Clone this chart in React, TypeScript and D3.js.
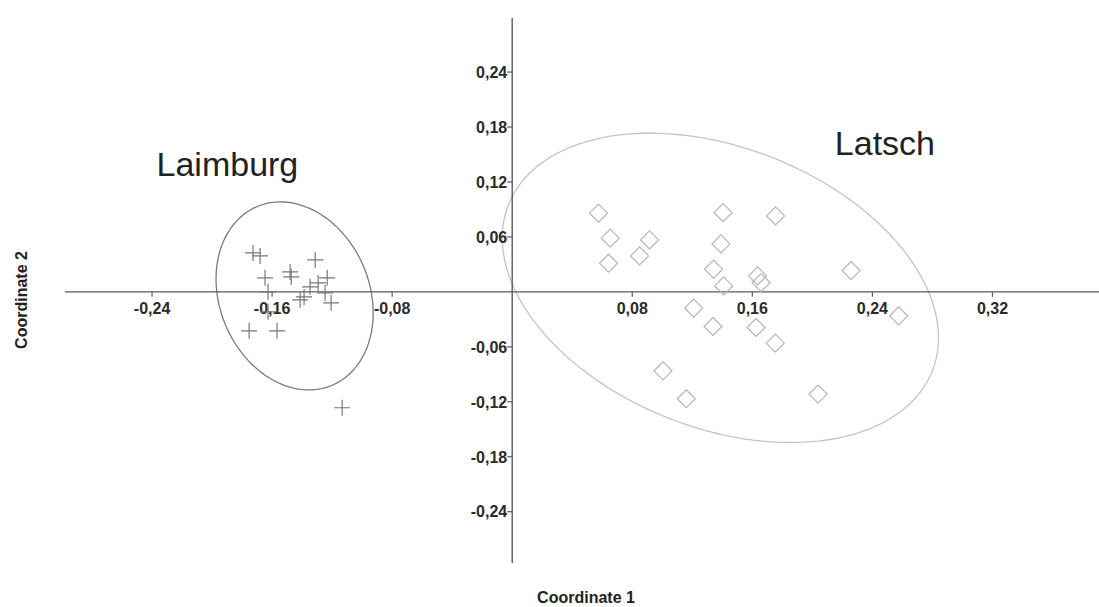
import * as React from 'react';
import * as d3 from 'd3';

// Laimburg (crosses)
const laimburgX = [-0.1727, -0.168, -0.1647, -0.1627, -0.1627, -0.148, -0.1473, -0.1313, -0.1233, -0.1293, -0.1347, -0.1387, -0.1413, -0.1247, -0.1207, -0.1753, -0.1567, -0.1133];
const laimburgY = [0.0425, 0.0393, 0.0153, 0.0, -0.0218, 0.0218, 0.0164, 0.0349, 0.0153, 0.0098, 0.0055, -0.0055, -0.0087, -0.0011, -0.012, -0.0425, -0.0425, -0.1265];

// Latsch (diamonds)
const latschX = [0.0575, 0.0653, 0.0642, 0.0915, 0.0849, 0.1405, 0.1755, 0.1391, 0.1342, 0.1409, 0.1635, 0.1658, 0.2258, 0.1209, 0.1338, 0.1625, 0.1753, 0.2575, 0.1005, 0.116, 0.2038];
const latschY = [0.0859, 0.0586, 0.0313, 0.0567, 0.0393, 0.0865, 0.0829, 0.0524, 0.0248, 0.0065, 0.0175, 0.0101, 0.0232, -0.0178, -0.0378, -0.0389, -0.056, -0.0262, -0.0862, -0.1167, -0.1116];

// 95% ellipses: centre x, centre y, semi-axis a, semi-axis b, angle (deg)
const laimburgEllipse = [-0.145, -0.0044, 0.1032, 0.0512, 97];
const latschEllipse = [0.1387, 0.0044, 0.1832, 0.1268, 122.5];

const xTicks = [-0.24, -0.16, -0.08, 0.08, 0.16, 0.24, 0.32];
const yTicks = [0.24, 0.18, 0.12, 0.06, -0.06, -0.12, -0.18, -0.24];

const groupNames = ["Laimburg", "Latsch"];
const groupLabelPos = [[-0.237, 0.127], [0.215, 0.149]];

class App extends React.Component<any, any> {
    componentDidMount() {
        document.body.style.margin = "0";
        this.createGraph();
    }

    createGraph() {
        d3.select(".pcoa svg").remove();
        let width = 1099, height = 607;
        let font = "'Liberation Sans', Arial, sans-serif";

        let xScale = d3.scaleLinear().domain([-0.298, 0.391]).range([65, 1099]);
        let yScale = d3.scaleLinear().domain([-0.296, 0.299]).range([563, 18]);
        let fmt = d3.formatLocale({decimal: ",", thousands: ".", grouping: [3], currency: ["", ""], minus: "-"}).format(".2f");

        let svg = d3.select(".pcoa")
            .append("svg")
            .attr("width", width)
            .attr("height", height)
            .style("display", "block")
            .style("background", "#fff");

        // ellipses
        let ellipsePoints = function(e) {
            let phi = e[4] * Math.PI / 180;
            return d3.range(0, 361, 2).map(function(deg) {
                let t = deg * Math.PI / 180;
                let u = e[2] * Math.cos(t), v = e[3] * Math.sin(t);
                return [e[0] + u * Math.cos(phi) - v * Math.sin(phi), e[1] + u * Math.sin(phi) + v * Math.cos(phi)];
            });
        };
        let line = d3.line()
            .x(function(d) { return xScale(d[0]); })
            .y(function(d) { return yScale(d[1]); })
            .curve(d3.curveLinearClosed);
        svg.append("path")
            .attr("d", line(ellipsePoints(laimburgEllipse)))
            .attr("fill", "none")
            .attr("stroke", "#7a7a7a")
            .attr("stroke-width", 1.3);
        svg.append("path")
            .attr("d", line(ellipsePoints(latschEllipse)))
            .attr("fill", "none")
            .attr("stroke", "#c4c4c4")
            .attr("stroke-width", 1.3);

        // axes through origin
        let axisColor = "#5a5a5a";
        svg.append("line")
            .attr("x1", xScale.range()[0]).attr("x2", xScale.range()[1])
            .attr("y1", yScale(0)).attr("y2", yScale(0))
            .attr("stroke", axisColor).attr("stroke-width", 1.4);
        svg.append("line")
            .attr("x1", xScale(0)).attr("x2", xScale(0))
            .attr("y1", yScale.range()[0]).attr("y2", yScale.range()[1])
            .attr("stroke", axisColor).attr("stroke-width", 1.4);

        let xt = svg.append("g").selectAll(".xt").data(xTicks).enter().append("g")
            .attr("transform", function(d) { return "translate(" + xScale(d) + "," + yScale(0) + ")"; });
        xt.append("line").attr("y1", 0).attr("y2", 5).attr("stroke", axisColor).attr("stroke-width", 1.2);
        xt.append("text")
            .attr("y", 22)
            .attr("text-anchor", "middle")
            .style("font-family", font)
            .style("font-size", "16px")
            .style("font-weight", "bold")
            .attr("fill", "#2a2a2a")
            .text(function(d) { return fmt(d); });

        let yt = svg.append("g").selectAll(".yt").data(yTicks).enter().append("g")
            .attr("transform", function(d) { return "translate(" + xScale(0) + "," + yScale(d) + ")"; });
        yt.append("line").attr("x1", 0).attr("x2", -5).attr("stroke", axisColor).attr("stroke-width", 1.2);
        yt.append("text")
            .attr("x", -5)
            .attr("dy", "0.36em")
            .attr("text-anchor", "end")
            .style("font-family", font)
            .style("font-size", "16px")
            .style("font-weight", "bold")
            .attr("fill", "#2a2a2a")
            .text(function(d) { return fmt(d); });

        // markers
        let crosses = laimburgX.map(function(x, i) { return [x, laimburgY[i]]; });
        let diamonds = latschX.map(function(x, i) { return [x, latschY[i]]; });
        svg.append("g").selectAll(".cross").data(crosses).enter().append("path")
            .attr("class", "cross")
            .attr("transform", function(d) { return "translate(" + xScale(d[0]) + "," + yScale(d[1]) + ")"; })
            .attr("d", "M-8,0H8M0,-8V8")
            .attr("stroke", "#777")
            .attr("stroke-width", 1.2)
            .attr("fill", "none");
        svg.append("g").selectAll(".diamond").data(diamonds).enter().append("path")
            .attr("class", "diamond")
            .attr("transform", function(d) { return "translate(" + xScale(d[0]) + "," + yScale(d[1]) + ")"; })
            .attr("d", "M0,-9L9,0L0,9L-9,0Z")
            .attr("stroke", "#b4b4b4")
            .attr("stroke-width", 1.2)
            .attr("fill", "none");

        // group names
        svg.append("g").selectAll(".gname").data(groupNames).enter().append("text")
            .attr("x", function(d, i) { return xScale(groupLabelPos[i][0]); })
            .attr("y", function(d, i) { return yScale(groupLabelPos[i][1]); })
            .style("font-family", font)
            .style("font-size", "34px")
            .attr("fill", "#222")
            .text(function(d) { return d; });

        // axis titles
        svg.append("text")
            .attr("x", 586)
            .attr("y", 603)
            .attr("text-anchor", "middle")
            .style("font-family", font)
            .style("font-size", "16px")
            .style("font-weight", "bold")
            .attr("fill", "#222")
            .text("Coordinate 1");
        svg.append("text")
            .attr("transform", "translate(27,300) rotate(-90)")
            .attr("text-anchor", "middle")
            .style("font-family", font)
            .style("font-size", "16px")
            .style("font-weight", "bold")
            .attr("fill", "#222")
            .text("Coordinate 2");
    }

    render() {
        return (
            <div className="pcoa">
            </div>
        );
    }
}

export default App;
